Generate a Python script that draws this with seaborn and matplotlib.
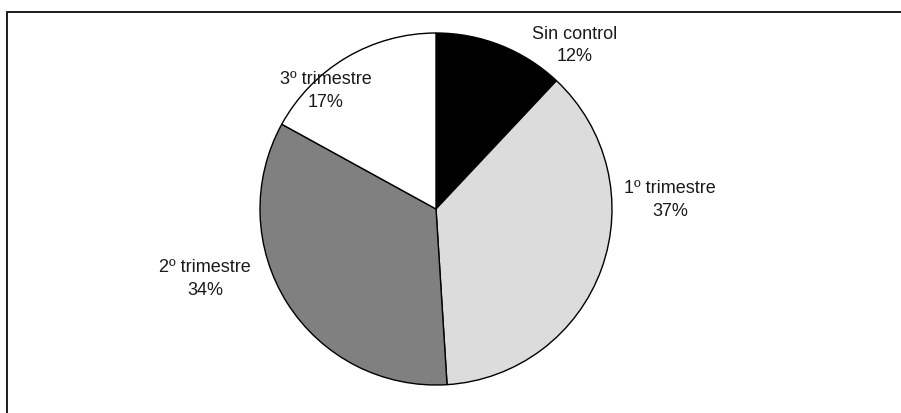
import matplotlib
matplotlib.use("Agg")
import matplotlib.pyplot as plt
from matplotlib.lines import Line2D
import seaborn as sns

# Prenatal care start: share of pregnancies by first check-up timing
categories = ["Sin control", "1º trimestre", "2º trimestre", "3º trimestre"]
shares = [12, 37, 34, 17]
slice_colors = ["#000000", "#dcdcdc", "#808080", "#ffffff"]

sns.set_theme(style="white")
plt.rcParams["font.family"] = ["Liberation Sans", "DejaVu Sans"]

W, H, DPI = 901, 413, 100
fig = plt.figure(figsize=(W / DPI, H / DPI), dpi=DPI)
fig.patch.set_facecolor("white")

# pie centre and radius in pixels
cx, cy, r = 436, 209, 176
ax = fig.add_axes([(cx - r) / W, (H - cy - r) / H, 2 * r / W, 2 * r / H])

ax.pie(shares, colors=slice_colors, startangle=90, counterclock=False,
       radius=1, center=(0, 0),
       wedgeprops=dict(edgecolor="black", linewidth=1.0))
ax.set_xlim(-1, 1)
ax.set_ylim(-1, 1)
ax.set_aspect("equal")
ax.axis("off")

# label anchors (in pie-radius units) placed around the pie
label_pos = [(0.790, 0.929), (1.330, 0.051), (-1.313, -0.398), (-0.625, 0.670)]
for name, val, (lx, ly) in zip(categories, shares, label_pos):
    ax.text(lx, ly, f"{name}\n{val}%", ha="center", va="center",
            fontsize=13, color="#1a1a1a", linespacing=1.45, clip_on=False)

# frame lines along the top and left edges
lw = 2 * 72 / DPI
fig.add_artist(Line2D([7 / W, 1.0], [1 - 12 / H, 1 - 12 / H],
                      transform=fig.transFigure, color="#222222", linewidth=lw))
fig.add_artist(Line2D([7 / W, 7 / W], [1 - 12 / H, 0.0],
                      transform=fig.transFigure, color="#222222", linewidth=lw))

fig.savefig("out.png", dpi=DPI, facecolor="white")
